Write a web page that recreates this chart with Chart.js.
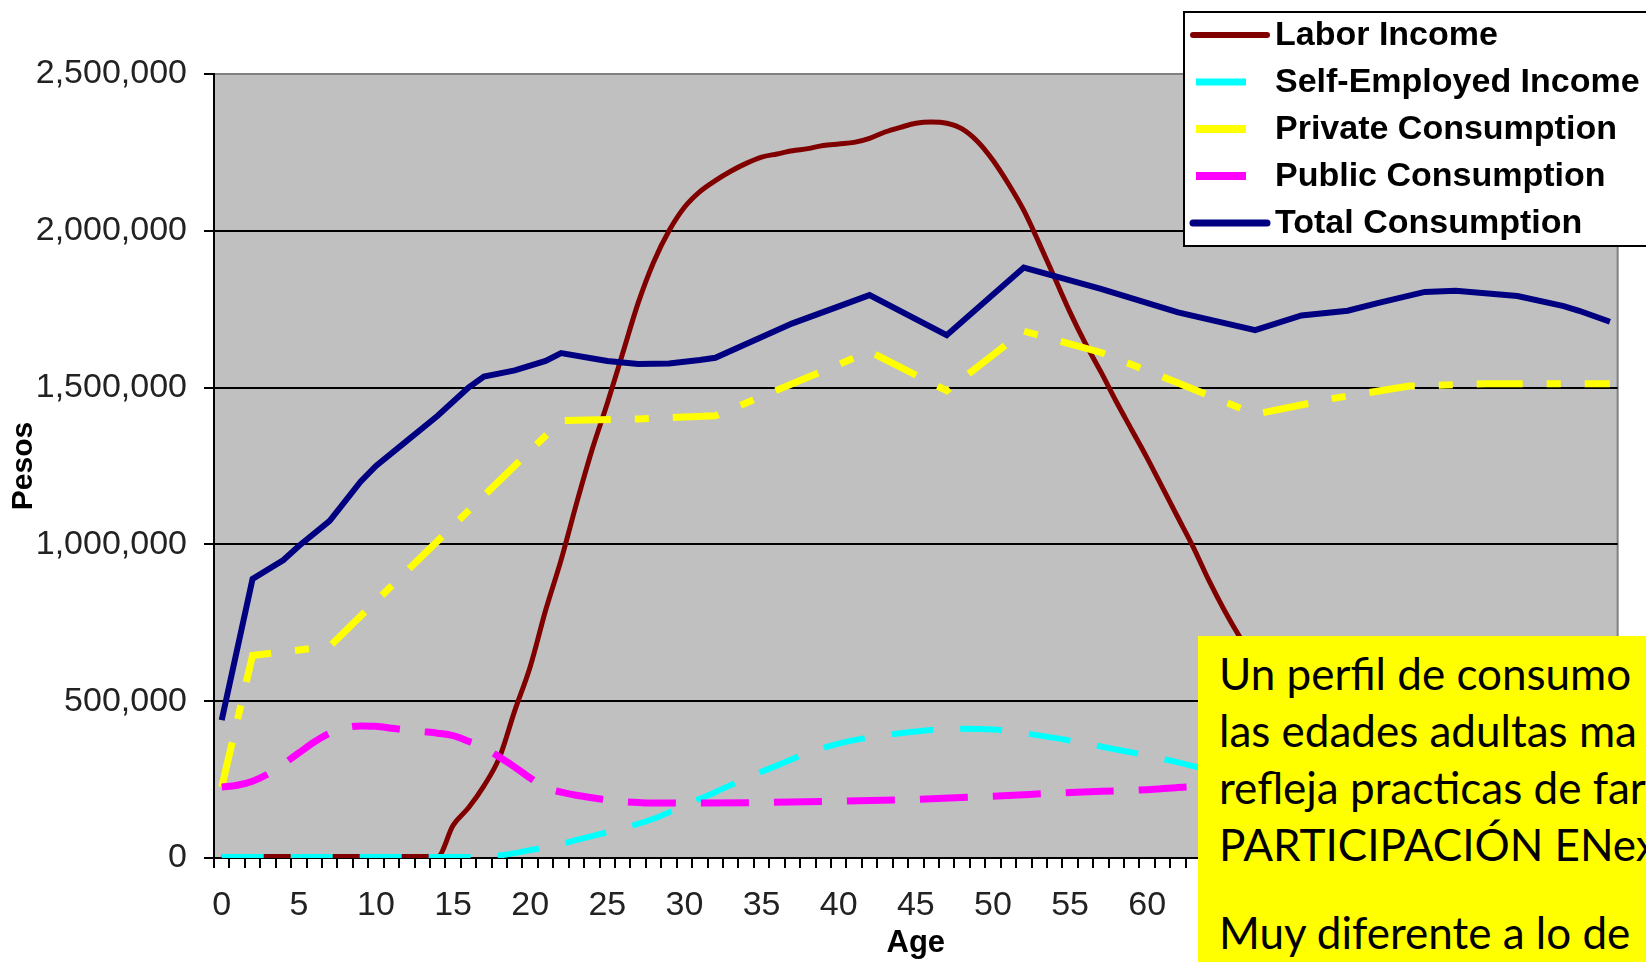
<!DOCTYPE html>
<html>
<head>
<meta charset="utf-8">
<script src="https://cdn.jsdelivr.net/npm/chart.js@4.4.1/dist/chart.umd.min.js"></script>
<style>
  html, body { margin: 0; padding: 0; background: #fff; overflow: hidden; }
  #wrap { position: relative; width: 1646px; height: 962px; overflow: hidden; }
  #note {
    position: absolute; left: 1198px; top: 636px; width: 600px; height: 400px;
    box-sizing: border-box; padding: 9px 0 0 21px;
    background: #ffff00; color: #000; white-space: nowrap;
    font-family: Lato, "Noto Sans", sans-serif; font-size: 44px; line-height: 57px;
  }
  #note p { margin: 0; }
  #note p + p { margin-top: 31px; }
</style>
</head>
<body>
<div id="wrap">
  <canvas id="myChart"></canvas>
  <div id="note">
    <p>Un perfil de consumo<br>las edades adultas ma<br>refleja practicas de far<br>PARTICIPACIÓN ENext</p>
    <p>Muy diferente a lo de</p>
  </div>
</div>
<script>
// categories: single years of age
const ages = Array.from({ length: 91 }, (_, i) => i);

const laborAges = [0, 14, 15, 16, 17, 18, 19, 20, 21, 22, 23, 24, 25, 26, 27, 28, 29, 30, 31, 32, 33, 34, 35, 36, 37, 38, 39, 40,
  41, 42, 43, 44, 45, 46, 47, 48, 49, 50, 51, 52, 53, 54, 55, 56, 57, 58, 59, 60, 61, 62, 63, 64, 65, 66, 67, 70, 75, 80, 85, 90];
const laborIncome = [5000, 5000, 104000, 160000, 230000, 320000, 470000, 610000, 790000, 950000, 1130000, 1300000, 1450000,
  1610000, 1770000, 1900000, 2000000, 2075000, 2125000, 2160000, 2190000, 2215000, 2235000, 2245000, 2255000, 2262000, 2272000,
  2277000, 2282000, 2295000, 2315000, 2330000, 2343000, 2347000, 2343000, 2325000, 2285000, 2225000, 2150000, 2065000, 1960000,
  1850000, 1740000, 1640000, 1550000, 1455000, 1365000, 1275000, 1180000, 1085000, 990000, 885000, 790000, 705000, 630000,
  450000, 250000, 130000, 70000, 40000];

const selfAges = [0, 15, 18, 20, 22, 24, 26, 28, 30, 32, 34, 36, 38, 40, 42, 44, 46, 48, 50, 52, 54, 56, 58, 60, 62, 64, 67,
  70, 75, 80, 85, 90];
const selfEmployedIncome = [3000, 3000, 8000, 25000, 45000, 70000, 95000, 125000, 168000, 210000, 255000, 295000, 335000,
  365000, 385000, 398000, 408000, 412000, 410000, 398000, 383000, 365000, 346000, 327000, 305000, 280000, 240000, 195000,
  140000, 95000, 60000, 35000];

const privateAges = [0, 2, 7, 22, 27, 32, 42, 47, 52, 57, 62, 67, 72, 77, 82, 87, 90];
const privateConsumption = [226000, 646000, 675000, 1395000, 1400000, 1410000, 1615000, 1490000, 1680000, 1612000, 1515000,
  1415000, 1465000, 1505000, 1512000, 1512000, 1512000];

const publicAges = [0, 1, 2, 3, 4, 5, 6, 7, 8, 9, 10, 11, 12, 13, 14, 15, 16, 17, 18, 19, 20, 21, 22, 23, 24, 25, 26, 27,
  28, 30, 35, 40, 45, 50, 55, 60, 62, 65, 70, 80, 90];
const publicConsumption = [226000, 232000, 245000, 268000, 300000, 335000, 370000, 398000, 415000, 421000, 420000, 414000,
  408000, 403000, 398000, 390000, 372000, 352000, 322000, 290000, 255000, 225000, 210000, 200000, 192000, 185000, 180000,
  177000, 175000, 175000, 177000, 181000, 187000, 197000, 209000, 218000, 225000, 232000, 245000, 265000, 285000];

const totalAges = [0, 2, 4, 5, 7, 9, 10, 12, 14, 16, 17, 19, 21, 22, 25, 27, 29, 31, 32, 37, 42, 47, 52, 57, 62, 67, 70,
  73, 75, 78, 80, 84, 87, 88, 90];
const totalConsumption = [440000, 890000, 950000, 995000, 1075000, 1200000, 1250000, 1330000, 1410000, 1500000, 1535000,
  1555000, 1585000, 1610000, 1585000, 1575000, 1577000, 1588000, 1595000, 1705000, 1795000, 1667000, 1883000, 1815000,
  1740000, 1683000, 1730000, 1745000, 1770000, 1805000, 1809000, 1792000, 1760000, 1745000, 1710000];

const yTicks = [0, 500000, 1000000, 1500000, 2000000, 2500000];

const pairs = (xs, ys) => xs.map((x, i) => ({ x, y: ys[i] }));
const axisFont = "'Liberation Sans', Arial, sans-serif";

// grey plot area with the thin grey frame on top and right
const plotFrame = {
  id: 'plotFrame',
  beforeDraw(chart) {
    const { ctx, chartArea: a } = chart;
    ctx.save();
    ctx.fillStyle = '#c0c0c0';
    ctx.fillRect(a.left, a.top, a.right - a.left, a.bottom - a.top);
    ctx.strokeStyle = '#808080';
    ctx.lineWidth = 2;
    ctx.beginPath();
    ctx.moveTo(a.left, a.top);
    ctx.lineTo(a.right, a.top);
    ctx.lineTo(a.right, a.bottom);
    ctx.stroke();
    ctx.restore();
  }
};

// boxed legend in the top-right corner, running off the page
const boxLegend = {
  id: 'boxLegend',
  afterDraw(chart) {
    const { ctx } = chart;
    ctx.save();
    ctx.fillStyle = '#fff';
    ctx.fillRect(1184, 12, 500, 234);
    ctx.strokeStyle = '#000';
    ctx.lineWidth = 2;
    ctx.strokeRect(1184, 12, 500, 234);
    chart.data.datasets.forEach((ds, i) => {
      const y = 35 + i * 47;
      ctx.strokeStyle = ds.borderColor;
      ctx.lineWidth = ds.borderWidth + 1;
      ctx.setLineDash([]);
      ctx.beginPath();
      if (ds.borderDash.length) {
        ctx.lineCap = 'butt';
        ctx.moveTo(1196, y);
        ctx.lineTo(1246, y);
      } else {
        ctx.lineCap = 'round';
        ctx.moveTo(1193, y);
        ctx.lineTo(1267, y);
      }
      ctx.stroke();
      ctx.fillStyle = '#000';
      ctx.font = "bold 34px " + axisFont;
      ctx.textBaseline = 'middle';
      ctx.fillText(ds.label, 1275, y + 1);
    });
    ctx.restore();
  }
};

const ctx = document.getElementById('myChart');

new Chart(ctx, {
  type: 'line',
  data: {
    labels: ages,
    datasets: [
      {
        label: 'Labor Income',
        data: pairs(laborAges, laborIncome),
        borderColor: '#800000',
        borderWidth: 5,
        borderDash: [],
        cubicInterpolationMode: 'monotone',
        order: 5,
      },
      {
        label: 'Self-Employed Income',
        data: pairs(selfAges, selfEmployedIncome),
        borderColor: '#00ffff',
        borderWidth: 6,
        borderDash: [42, 27],
        cubicInterpolationMode: 'monotone',
        order: 4,
      },
      {
        label: 'Private Consumption',
        data: pairs(privateAges, privateConsumption),
        borderColor: '#ffff00',
        borderWidth: 7,
        borderDash: [46, 24, 14, 24],
        tension: 0,
        order: 3,
      },
      {
        label: 'Public Consumption',
        data: pairs(publicAges, publicConsumption),
        borderColor: '#ff00ff',
        borderWidth: 7,
        borderDash: [48, 25],
        cubicInterpolationMode: 'monotone',
        order: 2,
      },
      {
        label: 'Total Consumption',
        data: pairs(totalAges, totalConsumption),
        borderColor: '#000080',
        borderWidth: 6,
        borderDash: [],
        tension: 0,
        order: 1,
      },
    ],
  },
  options: {
    responsive: true,
    maintainAspectRatio: false,
    animation: false,
    spanGaps: true,
    layout: { padding: { top: 74, right: 28, left: 0, bottom: 0 } },
    elements: { point: { radius: 0 } },
    plugins: {
      legend: { display: false },
      tooltip: { enabled: false },
    },
    scales: {
      x: {
        type: 'category',
        offset: true,
        afterFit: (s) => { s.height = 104; },
        grid: { drawOnChartArea: false, drawTicks: true, tickLength: 10, color: '#000', lineWidth: 2, offset: true },
        border: { color: '#000', width: 2 },
        ticks: {
          autoSkip: false,
          maxRotation: 0,
          padding: 17,
          color: '#222',
          font: { family: axisFont, size: 34 },
          callback: (v, i) => (ages[i] % 5 === 0 ? String(ages[i]) : ''),
        },
        title: {
          display: true,
          text: 'Age',
          color: '#000',
          padding: { top: 0, bottom: 0 },
          font: { family: axisFont, size: 31, weight: 'bold' },
        },
      },
      y: {
        min: yTicks[0],
        max: yTicks[yTicks.length - 1],
        afterFit: (s) => { s.width = 214; },
        afterBuildTicks: (s) => { s.ticks = yTicks.map((v) => ({ value: v })); },
        grid: {
          color: (c) => (c.tick && c.tick.value === 2500000 ? '#808080' : '#000'),
          tickColor: '#000',
          lineWidth: 2,
          tickLength: 10,
        },
        border: { color: '#000', width: 2 },
        ticks: {
          padding: 17,
          color: '#222',
          font: { family: axisFont, size: 34 },
          callback: (v) => Number(v).toLocaleString('en-US'),
        },
        title: {
          display: true,
          text: 'Pesos',
          color: '#000',
          padding: { top: 6, bottom: 0 },
          font: { family: axisFont, size: 30, weight: 'bold' },
        },
      },
    },
  },
  plugins: [plotFrame, boxLegend],
});
</script>
</body>
</html>
